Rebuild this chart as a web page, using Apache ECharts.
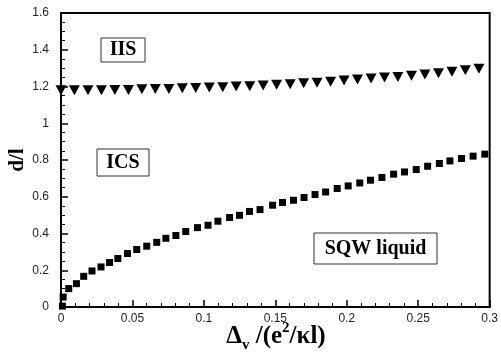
<!DOCTYPE html>
<html>
<head>
<meta charset="utf-8">
<script src="https://cdn.jsdelivr.net/npm/echarts@6/dist/echarts.min.js"></script>
<style>html,body{margin:0;padding:0;background:#fff}#c{width:501px;height:353px}</style>
</head>
<body>
<div id="c"></div>
<script>
// IIS boundary (down triangles)
var iisX = [0.000,0.0094,0.0189,0.0283,0.0377,0.0472,0.0566,0.0660,0.0755,0.0849,0.0943,0.1038,0.1132,0.1226,0.1321,0.1415,0.1509,0.1604,0.1698,0.1792,0.1887,0.1981,0.2075,0.2170,0.2264,0.2358,0.2453,0.2547,0.2642,0.2736,0.2830,0.2925];
var iisY = [1.180,1.180,1.180,1.180,1.181,1.181,1.185,1.186,1.187,1.191,1.192,1.195,1.196,1.200,1.201,1.205,1.209,1.212,1.218,1.221,1.226,1.232,1.238,1.243,1.249,1.252,1.258,1.265,1.272,1.280,1.288,1.297];
// ICS boundary (squares)
var icsX = [0.001,0.0015,0.0054,0.0108,0.0159,0.0217,0.028,0.034,0.0398,0.0465,0.053,0.060,0.067,0.0734,0.0804,0.0873,0.0955,0.1029,0.1098,0.118,0.1249,0.1319,0.1393,0.1481,0.155,0.1627,0.1701,0.1778,0.1852,0.1933,0.201,0.2091,0.2166,0.2246,0.2328,0.2404,0.2486,0.2566,0.2648,0.2722,0.2803,0.2884,0.2966];
var icsY = [0.005,0.054,0.100,0.127,0.167,0.196,0.218,0.242,0.264,0.291,0.313,0.331,0.352,0.374,0.389,0.411,0.432,0.445,0.467,0.487,0.499,0.520,0.530,0.554,0.569,0.581,0.596,0.612,0.626,0.645,0.659,0.675,0.690,0.705,0.723,0.735,0.748,0.766,0.781,0.795,0.808,0.821,0.832];
var xTicks = ['0','0.05','0.1','0.15','0.2','0.25','0.3'];
var yTicks = ['0','0.2','0.4','0.6','0.8','1','1.2','1.4','1.6'];
var regionLabels = ['IIS','ICS','SQW liquid'];

function pairs(xs, ys){ return xs.map(function(x,i){ return [x, ys[i]]; }); }
var serif = '"Liberation Serif","Times New Roman",serif';
var chart = echarts.init(document.getElementById('c'), null, {renderer:'canvas'});
var axisCommon = {
  axisLine:{show:true, onZero:false, lineStyle:{color:'#000', width:2}},
  axisTick:{show:true, inside:true, length:7, lineStyle:{color:'#000', width:1.5}},
  minorTick:{show:true, length:4, lineStyle:{color:'#000', width:1}},
  splitLine:{show:false},
  axisLabel:{color:'#222', fontFamily:'"Liberation Sans",Arial,sans-serif', fontSize:12}
};
chart.setOption({
  animation:false,
  backgroundColor:'#fff',
  grid:{left:61, right:9, top:13, bottom:46, show:true, borderColor:'#000', borderWidth:2, backgroundColor:'transparent'},
  xAxis:Object.assign({}, axisCommon, {
    type:'value', min:0, max:0.3, interval:0.05,
    minorTick:Object.assign({}, axisCommon.minorTick, {splitNumber:5}),
    axisLabel:Object.assign({}, axisCommon.axisLabel, {margin:6, formatter:function(v){ var i=Math.round(v/0.05); return xTicks[i]; }})
  }),
  yAxis:Object.assign({}, axisCommon, {
    type:'value', min:0, max:1.6, interval:0.2,
    minorTick:Object.assign({}, axisCommon.minorTick, {splitNumber:4}),
    axisLabel:Object.assign({}, axisCommon.axisLabel, {margin:12, formatter:function(v){ var i=Math.round(v/0.2); return yTicks[i]; }})
  }),
  series:[
    {type:'scatter', data:pairs(iisX, iisY), symbol:'triangle', symbolRotate:180, symbolSize:[11,10], itemStyle:{color:'#000', opacity:1}, clip:false},
    {type:'scatter', data:pairs(icsX, icsY), symbol:'rect', symbolSize:7, itemStyle:{color:'#000', opacity:1}, clip:false}
  ],
  graphic:[
    {type:'rect', shape:{x:101, y:38, width:44, height:24}, style:{fill:'#fff', stroke:'#333', lineWidth:1}},
    {type:'text', x:123, y:50, style:{text:regionLabels[0], font:'bold 20px '+serif, fill:'#000', align:'center', verticalAlign:'middle'}},
    {type:'rect', shape:{x:97, y:149, width:52, height:27}, style:{fill:'#fff', stroke:'#333', lineWidth:1}},
    {type:'text', x:123, y:163, style:{text:regionLabels[1], font:'bold 20px '+serif, fill:'#000', align:'center', verticalAlign:'middle'}},
    {type:'rect', shape:{x:314, y:233, width:123, height:31}, style:{fill:'#fff', stroke:'#333', lineWidth:1}},
    {type:'text', x:375.5, y:249, style:{text:regionLabels[2], font:'bold 20px '+serif, fill:'#000', align:'center', verticalAlign:'middle'}},
    {type:'text', x:18, y:160, rotation:Math.PI/2, style:{text:'d/l', font:'bold 21px '+serif, fill:'#000', align:'center', verticalAlign:'middle'}},
    {type:'text', x:276, y:337, style:{
      text:'{a|Δ}{s|v}{a| /(e}{p|2}{a|/κl)}', align:'center', verticalAlign:'middle', fill:'#000',
      rich:{
        a:{font:'bold 25px '+serif, fill:'#000', lineHeight:32, verticalAlign:'middle'},
        s:{font:'bold 15px '+serif, fill:'#000', lineHeight:32, verticalAlign:'bottom'},
        p:{font:'bold 15px '+serif, fill:'#000', lineHeight:32, verticalAlign:'top'}
      }}}
  ]
});
</script>
</body>
</html>
